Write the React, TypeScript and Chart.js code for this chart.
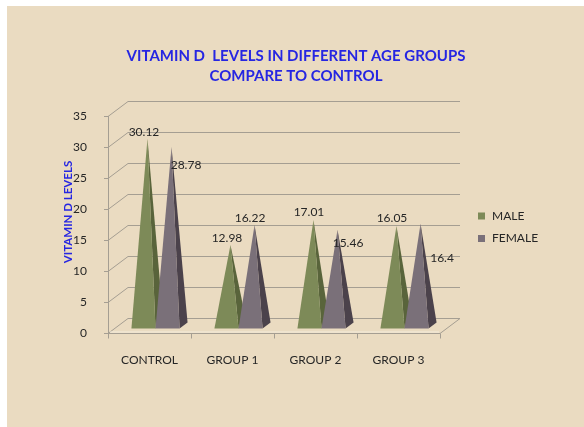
import { useEffect, useRef } from "react";
import { Chart, registerables } from "chart.js";

Chart.register(...registerables);

// ---- data ----
const categories = ["CONTROL", "GROUP 1", "GROUP 2", "GROUP 3"];
const seriesNames = ["MALE", "FEMALE"];
const maleValues = [30.12, 12.98, 17.01, 16.05];
const femaleValues = [28.78, 16.22, 15.46, 16.4];
const yMin = 0;
const yMax = 35;
const yStep = 5;
const titleLines = ["VITAMIN D  LEVELS IN DIFFERENT AGE GROUPS", "COMPARE TO CONTROL"];
const yAxisTitle = "VITAMIN D LEVELS";

// ---- styles ----
const FONT = "Lato, 'Open Sans', 'DejaVu Sans', sans-serif";
const BG = "#EADBC1";
const GRID = "#a59e92";
const TEXT = "#262626";
const BLUE = "#2626E2";
const FRONT = ["#7D8A58", "#7A7079"];
const SIDE = ["#59643B", "#4B424B"];
const DEPTH = [20, -15];
// data label offsets from each apex [series][category]
const labelOffsets = [
  [[-3.5, -7], [-3.5, -7], [-4.5, -8], [-4.5, -8]],
  [[14.5, 18], [-4.5, -7], [10.5, 13.5], [21.5, 34]],
];

const pyramidPlugin = {
  id: "pyramid3d",
  beforeDraw(chart: any) {
    const ctx = chart.ctx as CanvasRenderingContext2D;
    const { left, right, top, bottom } = chart.chartArea;
    const ys = chart.scales.y;
    const xs = chart.scales.x;
    ctx.save();
    ctx.fillStyle = "#ffffff";
    ctx.fillRect(0, 0, chart.width, chart.height);
    ctx.fillStyle = BG;
    ctx.fillRect(7, 6, chart.width - 7, chart.height - 6);

    // title
    ctx.fillStyle = BLUE;
    ctx.font = `bold 15px ${FONT}`;
    ctx.textAlign = "center";
    ctx.textBaseline = "middle";
    ctx.fillText(titleLines[0], 296, 56);
    ctx.fillText(titleLines[1], 296, 76);

    // y axis title
    ctx.save();
    ctx.translate(68, 212);
    ctx.rotate(-Math.PI / 2);
    ctx.font = `bold 11.5px ${FONT}`;
    ctx.fillText(yAxisTitle, 0, 0);
    ctx.restore();

    // walls
    ctx.strokeStyle = GRID;
    ctx.lineWidth = 1;
    ctx.beginPath();
    ys.ticks.forEach((t: any) => {
      const y = Math.round(ys.getPixelForValue(t.value)) + 0.5;
      ctx.moveTo(left - 4, y);
      ctx.lineTo(left, y);
      ctx.lineTo(left + DEPTH[0], y + DEPTH[1]);
      ctx.lineTo(right + DEPTH[0], y + DEPTH[1]);
    });
    const lx = Math.round(left) + 0.5;
    const by = Math.round(bottom) + 0.5;
    ctx.moveTo(lx, top);
    ctx.lineTo(lx, by);
    ctx.moveTo(left, by);
    ctx.lineTo(right, by);
    ctx.lineTo(right + DEPTH[0], by + DEPTH[1]);
    const n = categories.length;
    const cw = (right - left) / n;
    for (let i = 0; i <= n; i++) {
      const x = Math.round(xs.getPixelForValue(0) - cw / 2 + i * cw) + 0.5;
      ctx.moveTo(x, by);
      ctx.lineTo(x, by + 5);
    }
    ctx.stroke();
    ctx.strokeStyle = "#f4ecdc";
    ctx.beginPath();
    ctx.moveTo(left + 2, by - 1.5);
    ctx.lineTo(right - 1, by - 1.5);
    ctx.stroke();

    // legend
    ctx.font = `12px ${FONT}`;
    ctx.textAlign = "left";
    seriesNames.forEach((name, i) => {
      const cy = 216 + i * 22.5;
      ctx.fillStyle = FRONT[i];
      ctx.fillRect(478, cy - 3.5, 7, 7);
      ctx.fillStyle = TEXT;
      ctx.fillText(name, 492, cy);
    });
    ctx.restore();
  },
  beforeDatasetsDraw(chart: any) {
    const ctx = chart.ctx as CanvasRenderingContext2D;
    const metas = chart.data.datasets.map((_: any, i: number) => chart.getDatasetMeta(i));
    const f1 = 0.3, f2 = 0.7, fa = 0.5;
    const apexes: number[][][] = [];
    ctx.save();
    for (let c = 0; c < categories.length; c++) {
      metas.forEach((meta: any, s: number) => {
        const el = meta.data[c];
        const { x, y, base, width } = el.getProps(["x", "y", "base", "width"], true);
        const flx = x - width / 2 + DEPTH[0] * f1;
        const frx = x + width / 2 + DEPTH[0] * f1;
        const fy = base + DEPTH[1] * f1;
        const brx = x + width / 2 + DEPTH[0] * f2;
        const bry = base + DEPTH[1] * f2;
        const ax = x + DEPTH[0] * fa;
        const ay = y + DEPTH[1] * fa;
        apexes[s] = apexes[s] || [];
        apexes[s][c] = [ax, ay];
        ctx.fillStyle = SIDE[s];
        ctx.beginPath();
        ctx.moveTo(frx, fy);
        ctx.lineTo(brx, bry);
        ctx.lineTo(ax, ay);
        ctx.closePath();
        ctx.fill();
        ctx.fillStyle = FRONT[s];
        ctx.beginPath();
        ctx.moveTo(flx, fy);
        ctx.lineTo(frx, fy);
        ctx.lineTo(ax, ay);
        ctx.closePath();
        ctx.fill();
      });
    }
    // data labels
    ctx.font = `12px ${FONT}`;
    ctx.fillStyle = TEXT;
    ctx.textAlign = "center";
    ctx.textBaseline = "middle";
    chart.data.datasets.forEach((ds: any, s: number) => {
      ds.data.forEach((v: number, c: number) => {
        const [ax, ay] = apexes[s][c];
        const [ox, oy] = labelOffsets[s][c];
        ctx.fillText(String(v), ax + ox, ay + oy);
      });
    });
    ctx.restore();
    return false;
  },
};

export default function App() {
  const ref = useRef<HTMLCanvasElement | null>(null);
  useEffect(() => {
    if (!ref.current) return;
    const tickFont = { family: FONT, size: 12 };
    const chart = new Chart(ref.current, {
      type: "bar",
      data: {
        labels: categories,
        datasets: [
          { label: seriesNames[0], data: maleValues, backgroundColor: FRONT[0] },
          { label: seriesNames[1], data: femaleValues, backgroundColor: FRONT[1] },
        ],
      },
      options: {
        responsive: false,
        animation: false,
        devicePixelRatio: 1,
        layout: { padding: { top: 116, right: 144, bottom: 0, left: 0 } },
        datasets: { bar: { categoryPercentage: 0.58, barPercentage: 1 } },
        plugins: {
          legend: { display: false },
          title: { display: false },
          tooltip: { enabled: false },
        },
        scales: {
          x: {
            grid: { display: false },
            border: { display: false },
            ticks: { font: tickFont, color: TEXT, padding: 12, maxRotation: 0 },
            afterFit(s: any) {
              s.height = 94;
            },
          },
          y: {
            min: yMin,
            max: yMax,
            grid: { display: false },
            border: { display: false },
            ticks: { stepSize: yStep, font: tickFont, color: TEXT, padding: 13 },
            afterFit(s: any) {
              s.width = 108;
            },
          },
        },
      } as any,
      plugins: [pyramidPlugin as any],
    });
    return () => chart.destroy();
  }, []);
  return (
    <div style={{ position: "absolute", left: 0, top: 0, width: 584, height: 427 }}>
      <canvas ref={ref} width={584} height={427} style={{ display: "block" }} />
    </div>
  );
}
